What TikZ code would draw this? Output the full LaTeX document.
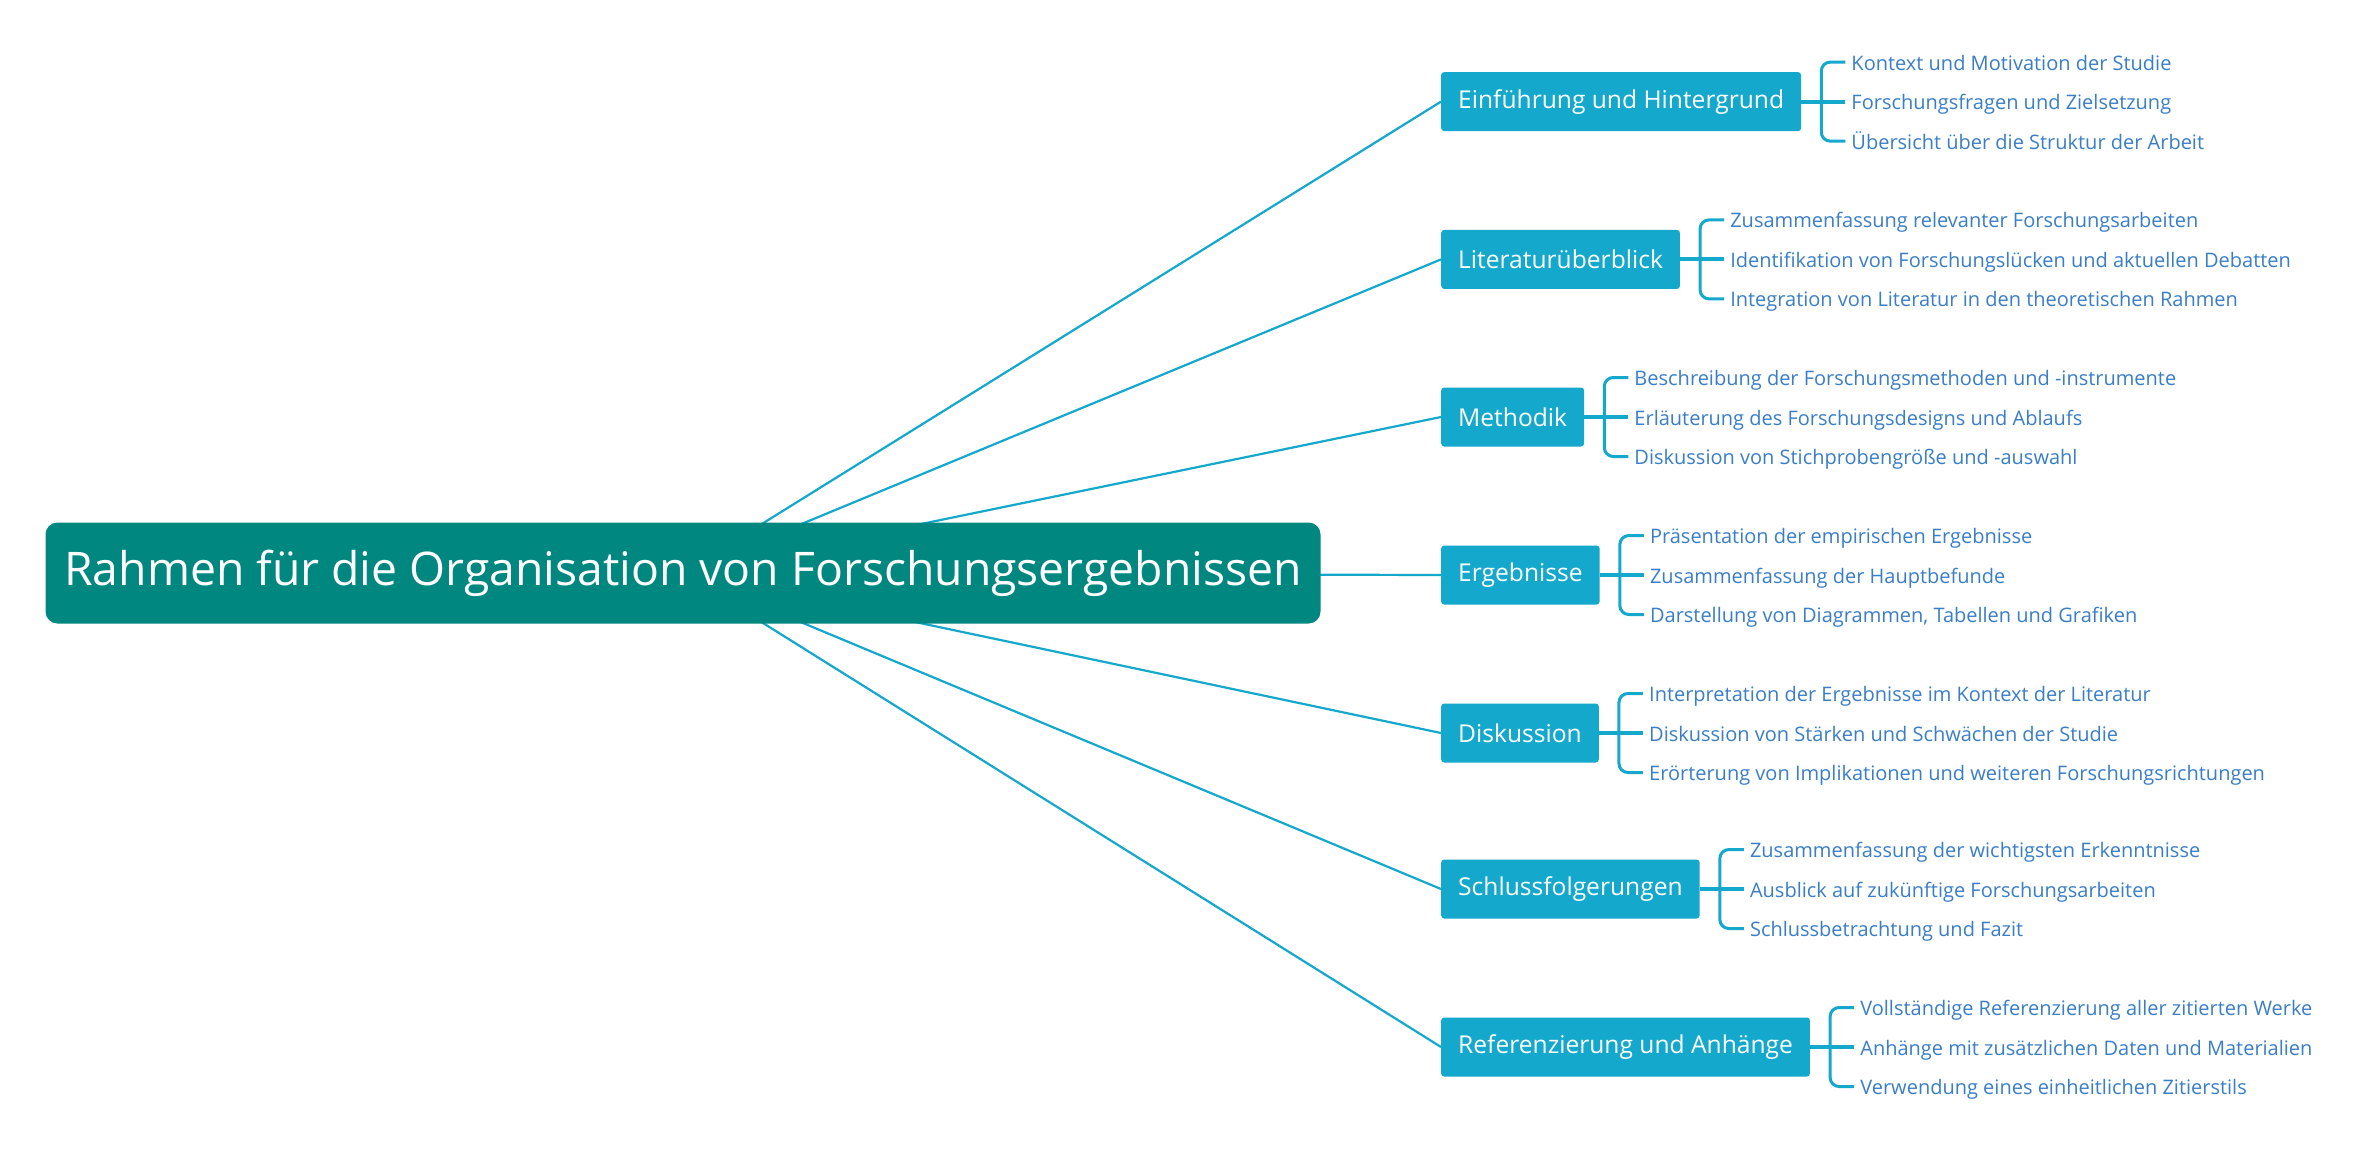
\documentclass[tikz,border=0pt]{standalone}
\usepackage{fontspec}
\setmainfont{Open Sans}
\usetikzlibrary{positioning,backgrounds}
\definecolor{rootteal}{RGB}{0,135,127}
\definecolor{topicblue}{RGB}{20,168,204}
\definecolor{leafblue}{RGB}{58,126,200}
\tikzset{
  rootbox/.style={fill=rootteal, text=white, rounded corners=12pt,
    minimum width=1275pt, minimum height=101pt,
    font=\fontsize{46.3}{52}\selectfont},
  topic/.style={fill=topicblue, text=white, rounded corners=3pt, anchor=west,
    minimum height=59pt, inner xsep=17pt, font=\fontsize{24.6}{29}\selectfont},
  leaf/.style={text=leafblue, inner xsep=6pt, inner ysep=0pt,
    text height=20pt, text depth=4pt, font=\fontsize{20}{24}\selectfont},
  link/.style={draw=topicblue, line width=2.2pt},
  stem/.style={draw=topicblue, line width=4pt},
  bracket/.style={draw=topicblue, line width=3pt, rounded corners=9pt}
}
\begin{document}
\begin{tikzpicture}[x=1pt,y=-1pt]
        % Define dimensions
        \def\topicx{1441}
        \def\leafgap{39.5pt}
        \useasboundingbox (0,0) rectangle (2379,1163);
        % Central node
        \node[rootbox] (root) at (683,573) {Rahmen für die Organisation von Forschungsergebnissen};
        % Topics
        \node[topic] (b1) at (\topicx,101.6) {Einführung und Hintergrund};
        \node[topic] (b2) at (\topicx,259.4) {Literaturüberblick};
        \node[topic] (b3) at (\topicx,417) {Methodik};
        \node[topic] (b4) at (\topicx,575) {Ergebnisse};
        \node[topic] (b5) at (\topicx,733) {Diskussion};
        \node[topic] (b6) at (\topicx,889) {Schlussfolgerungen};
        \node[topic] (b7) at (\topicx,1047) {Referenzierung und Anhänge};
        % Subtopics, middle one first
        \node[leaf, right=44pt of b1] (b1-2) {Forschungsfragen und Zielsetzung};
        \node[leaf, anchor=west] (b1-1) at ([yshift=\leafgap]b1-2.west) {Kontext und Motivation der Studie};
        \node[leaf, anchor=west] (b1-3) at ([yshift=-\leafgap]b1-2.west) {Übersicht über die Struktur der Arbeit};
        \node[leaf, right=44pt of b2] (b2-2) {Identifikation von Forschungslücken und aktuellen Debatten};
        \node[leaf, anchor=west] (b2-1) at ([yshift=\leafgap]b2-2.west) {Zusammenfassung relevanter Forschungsarbeiten};
        \node[leaf, anchor=west] (b2-3) at ([yshift=-\leafgap]b2-2.west) {Integration von Literatur in den theoretischen Rahmen};
        \node[leaf, right=44pt of b3] (b3-2) {Erläuterung des Forschungsdesigns und Ablaufs};
        \node[leaf, anchor=west] (b3-1) at ([yshift=\leafgap]b3-2.west) {Beschreibung der Forschungsmethoden und -instrumente};
        \node[leaf, anchor=west] (b3-3) at ([yshift=-\leafgap]b3-2.west) {Diskussion von Stichprobengröße und -auswahl};
        \node[leaf, right=44pt of b4] (b4-2) {Zusammenfassung der Hauptbefunde};
        \node[leaf, anchor=west] (b4-1) at ([yshift=\leafgap]b4-2.west) {Präsentation der empirischen Ergebnisse};
        \node[leaf, anchor=west] (b4-3) at ([yshift=-\leafgap]b4-2.west) {Darstellung von Diagrammen, Tabellen und Grafiken};
        \node[leaf, right=44pt of b5] (b5-2) {Diskussion von Stärken und Schwächen der Studie};
        \node[leaf, anchor=west] (b5-1) at ([yshift=\leafgap]b5-2.west) {Interpretation der Ergebnisse im Kontext der Literatur};
        \node[leaf, anchor=west] (b5-3) at ([yshift=-\leafgap]b5-2.west) {Erörterung von Implikationen und weiteren Forschungsrichtungen};
        \node[leaf, right=44pt of b6] (b6-2) {Ausblick auf zukünftige Forschungsarbeiten};
        \node[leaf, anchor=west] (b6-1) at ([yshift=\leafgap]b6-2.west) {Zusammenfassung der wichtigsten Erkenntnisse};
        \node[leaf, anchor=west] (b6-3) at ([yshift=-\leafgap]b6-2.west) {Schlussbetrachtung und Fazit};
        \node[leaf, right=44pt of b7] (b7-2) {Anhänge mit zusätzlichen Daten und Materialien};
        \node[leaf, anchor=west] (b7-1) at ([yshift=\leafgap]b7-2.west) {Vollständige Referenzierung aller zitierten Werke};
        \node[leaf, anchor=west] (b7-3) at ([yshift=-\leafgap]b7-2.west) {Verwendung eines einheitlichen Zitierstils};
        % Connectors behind the central node
        \begin{scope}[on background layer]
            \fill[white] (0,0) rectangle (2379,1163);
            \foreach \b in {1,...,7}
                \draw[link] (root.center) -- (b\b.west);
        \end{scope}
        % Brackets to the subtopics
        \foreach \b in {1,...,7} {
            \coordinate (k\b) at ([xshift=20pt]b\b.east);
            \draw[stem] (b\b.east) -- (b\b-2.west);
            \draw[bracket] (b\b-1.west) -| (k\b) |- (b\b-3.west);
        }
    \end{tikzpicture}
\end{document}
